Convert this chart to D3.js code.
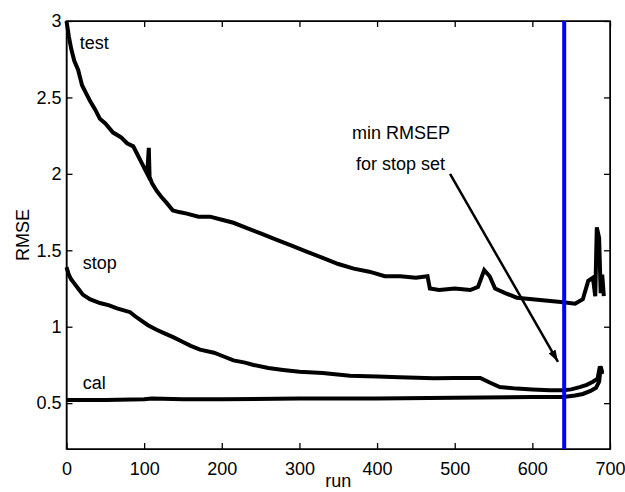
<!DOCTYPE html>
<html>
<head>
<meta charset="utf-8">
<script src="https://cdn.jsdelivr.net/npm/d3@7"></script>
<style>
    body { margin: 0; background: #fff; }
    #rmseChart { width: 625px; height: 492px; }
    text { font-family: "Liberation Sans", Arial, sans-serif; }
</style>
</head>
<body>
<div id="rmseChart"></div>
<script>
// runs / values
let testRuns = [0, 3, 6, 10, 15, 20, 25, 30, 37, 43, 50, 60, 70, 78, 86, 92, 97, 101, 104, 106, 107, 110, 116, 122, 129, 137, 145, 155, 170, 185, 200, 215, 230, 250, 270, 290, 310, 330, 350, 370, 390, 410, 430, 450, 465, 468, 480, 500, 520, 530, 538, 545, 552, 565, 580, 600, 620, 640, 655, 665, 672, 678, 681, 683, 686, 688, 690, 692]
let testValues = [3.00, 2.90, 2.82, 2.74, 2.68, 2.58, 2.53, 2.48, 2.42, 2.36, 2.33, 2.27, 2.24, 2.20, 2.18, 2.12, 2.07, 2.03, 2.00, 2.17, 1.98, 1.94, 1.89, 1.85, 1.81, 1.76, 1.75, 1.74, 1.72, 1.72, 1.70, 1.68, 1.65, 1.61, 1.57, 1.53, 1.49, 1.45, 1.41, 1.38, 1.36, 1.33, 1.33, 1.32, 1.33, 1.25, 1.24, 1.25, 1.24, 1.26, 1.37, 1.33, 1.25, 1.22, 1.19, 1.18, 1.17, 1.16, 1.15, 1.18, 1.30, 1.32, 1.20, 1.65, 1.58, 1.22, 1.34, 1.20]

let stopRuns = [0, 3, 6, 9, 15, 21, 30, 43, 55, 65, 75, 82, 88, 95, 105, 116, 127, 138, 150, 160, 172, 190, 200, 215, 230, 241, 260, 279, 300, 330, 365, 400, 429, 473, 500, 533, 545, 558, 580, 600, 623, 640, 650, 661, 670, 678, 684, 687, 690]
let stopValues = [1.39, 1.34, 1.31, 1.29, 1.25, 1.21, 1.18, 1.155, 1.14, 1.12, 1.105, 1.095, 1.07, 1.045, 1.01, 0.98, 0.955, 0.93, 0.90, 0.875, 0.85, 0.83, 0.81, 0.78, 0.765, 0.75, 0.73, 0.717, 0.705, 0.697, 0.68, 0.675, 0.67, 0.663, 0.665, 0.665, 0.635, 0.605, 0.595, 0.59, 0.585, 0.585, 0.59, 0.605, 0.62, 0.64, 0.66, 0.74, 0.69]

let calRuns = [0, 50, 100, 110, 150, 200, 300, 400, 500, 600, 640, 655, 665, 675, 682, 686, 688, 690]
let calValues = [0.52, 0.52, 0.525, 0.53, 0.525, 0.525, 0.53, 0.53, 0.535, 0.54, 0.54, 0.55, 0.56, 0.58, 0.60, 0.64, 0.74, 0.70]

let xTicks = [0, 100, 200, 300, 400, 500, 600, 700]
let yTicks = [0.5, 1, 1.5, 2, 2.5, 3]

let minRun = 641

// curve labels [text, run, value]
let curveLabels = [["test", 17, 2.82], ["stop", 21, 1.38], ["cal", 21, 0.59]]

// arrow from annotation text to the stop minimum
let arrowFrom = [494, 2.0]
let arrowTo = [633, 0.77]


class LineVis {
    constructor(parentElement) {
        this.parentElement = parentElement;
        this.series = [
            testRuns.map((r, i) => ({run: r, value: testValues[i]})),
            stopRuns.map((r, i) => ({run: r, value: stopValues[i]})),
            calRuns.map((r, i) => ({run: r, value: calValues[i]}))
        ]
        this.initVis()
    }

    initVis() {
        let vis = this;

        vis.margin = {top: 21, right: 15, bottom: 43, left: 66.5};
        vis.width = 625 - vis.margin.left - vis.margin.right;
        vis.height = 492 - vis.margin.top - vis.margin.bottom;

        vis.svg = d3.select("#" + vis.parentElement).append("svg")
            .attr("width", 625)
            .attr("height", 492)
            .append('g')
            .attr('transform', `translate (${vis.margin.left}, ${vis.margin.top})`);

        vis.x = d3.scaleLinear().domain([0, 700]).range([0, vis.width]);
        vis.y = d3.scaleLinear().domain([0.2, 3]).range([vis.height, 0]);

        // arrow head
        vis.svg.append("defs").append("marker")
            .attr("id", "head")
            .attr("viewBox", "0 0 12 8")
            .attr("refX", 12)
            .attr("refY", 4)
            .attr("markerWidth", 12)
            .attr("markerHeight", 8)
            .attr("markerUnits", "userSpaceOnUse")
            .attr("orient", "auto")
            .append("path")
            .attr("d", "M0,0 L12,4 L0,8 Z")
            .attr("fill", "black");

        // ticks point inwards, on all four sides
        vis.svg.append("g")
            .attr("class", "axis axis--x")
            .attr("transform", "translate(0," + vis.height + ")")
            .call(d3.axisBottom(vis.x).tickValues(xTicks).tickSizeInner(-6).tickSizeOuter(0).tickPadding(13));
        vis.svg.append("g")
            .attr("class", "axis axis--y")
            .call(d3.axisLeft(vis.y).tickValues(yTicks).tickFormat(d3.format("")).tickSizeInner(-6).tickSizeOuter(0).tickPadding(5));
        vis.svg.append("g")
            .attr("class", "axis")
            .call(d3.axisTop(vis.x).tickValues(xTicks).tickSizeInner(-6).tickSizeOuter(0).tickFormat(""));
        vis.svg.append("g")
            .attr("class", "axis")
            .attr("transform", "translate(" + vis.width + ",0)")
            .call(d3.axisRight(vis.y).tickValues(yTicks).tickSizeInner(-6).tickSizeOuter(0).tickFormat(""));

        vis.svg.selectAll(".axis text")
            .attr("font-size", 18)
            .attr("font-family", "Liberation Sans, Arial, sans-serif")
            .attr("fill", "black");
        vis.svg.selectAll(".axis line").attr("stroke", "black").attr("stroke-width", 1.3);

        // box
        vis.svg.append("rect")
            .attr("width", vis.width)
            .attr("height", vis.height)
            .attr("fill", "none")
            .attr("stroke", "black")
            .attr("stroke-width", 1.5);

        vis.line = d3.line()
            .x(d => vis.x(d.run))
            .y(d => vis.y(d.value));

        vis.svg.selectAll(".curve")
            .data(vis.series)
            .enter().append("path")
            .attr("class", "curve")
            .attr("d", vis.line)
            .attr("fill", "none")
            .attr("stroke", "black")
            .attr("stroke-width", 4)
            .attr("stroke-linejoin", "miter");

        // min RMSEP marker
        vis.svg.append("line")
            .attr("x1", vis.x(minRun)).attr("x2", vis.x(minRun))
            .attr("y1", 0).attr("y2", vis.height)
            .attr("stroke", "#0000ff")
            .attr("stroke-width", 4);

        vis.svg.selectAll(".curve-label")
            .data(curveLabels)
            .enter().append("text")
            .attr("class", "curve-label")
            .attr("x", d => vis.x(d[1]))
            .attr("y", d => vis.y(d[2]))
            .attr("font-size", 18)
            .text(d => d[0]);

        vis.svg.append("text")
            .attr("x", vis.x(494) + 0)
            .attr("y", vis.y(2.0) - 35)
            .attr("text-anchor", "end")
            .attr("font-size", 18)
            .text("min RMSEP");
        vis.svg.append("text")
            .attr("x", vis.x(494) - 5)
            .attr("y", vis.y(2.0) - 4)
            .attr("text-anchor", "end")
            .attr("font-size", 18)
            .text("for stop set");

        vis.svg.append("line")
            .attr("x1", vis.x(arrowFrom[0])).attr("y1", vis.y(arrowFrom[1]))
            .attr("x2", vis.x(arrowTo[0])).attr("y2", vis.y(arrowTo[1]))
            .attr("stroke", "black")
            .attr("stroke-width", 2.5)
            .attr("marker-end", "url(#head)");

        // axis titles
        vis.svg.append("text")
            .attr("x", vis.width / 2)
            .attr("y", vis.height + 38)
            .attr("text-anchor", "middle")
            .attr("font-size", 18)
            .text("run");
        vis.svg.append("text")
            .attr("transform", `translate(${-38}, ${vis.height / 2}) rotate(-90)`)
            .attr("text-anchor", "middle")
            .attr("font-size", 18)
            .text("RMSE");
    }
}

let chart = new LineVis('rmseChart')
</script>
</body>
</html>
